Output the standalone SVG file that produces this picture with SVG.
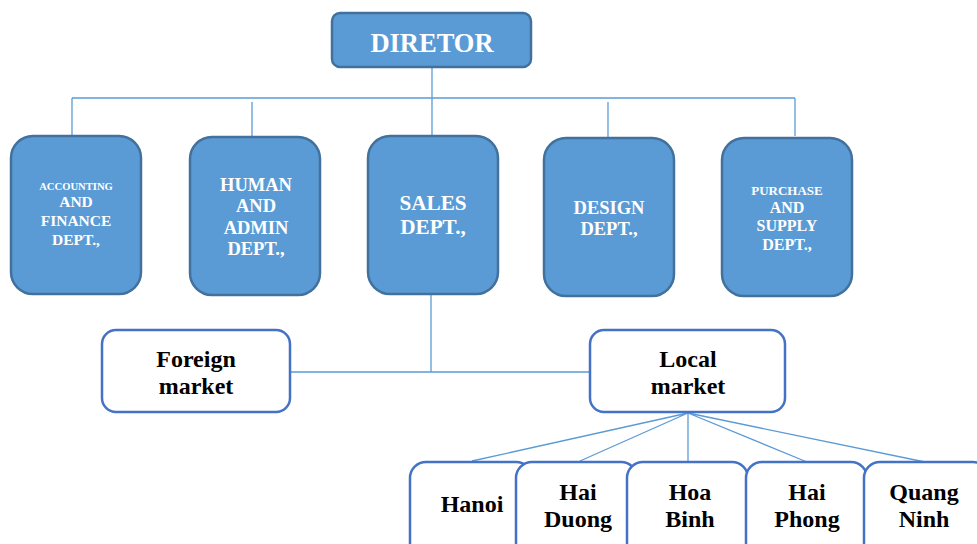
<svg xmlns="http://www.w3.org/2000/svg" width="977" height="544" viewBox="0 0 977 544">
<style>
.dept{fill:#5B9BD5;stroke:#41719C;stroke-width:2.5}
.wbox{fill:#FFFFFF;stroke:#4472C4;stroke-width:2.5}
.wt{font-family:"Liberation Serif","Times New Roman",serif;font-weight:bold;fill:#FFFFFF;text-anchor:middle}
.bt{font-family:"Liberation Serif","Times New Roman",serif;font-weight:bold;fill:#000000;text-anchor:middle}
.conn{stroke:#5B9BD5;stroke-width:1.3;fill:none}
</style>
<rect width="977" height="544" fill="#FFFFFF"/>
<g id="connectors">
<path class="conn" d="M432 67 V136 M72 98 H795 M72 98 V136 M252 102 V137 M608 102 V138 M795 98 V136"/>
<path class="conn" d="M431 294 V372 M290 372 H590"/>
<path class="conn" d="M688 413 L472 461 M688 413 L580 461 M688 413 L688 462 M688 413 L807 462 M688 413 L925 462"/>
</g>
<g id="director">
<rect class="dept" x="332" y="13" width="199" height="54" rx="8"/>
<text class="wt" x="432" y="52" font-size="26.5">DIRETOR</text>
</g>
<g id="accounting">
<rect class="dept" x="11" y="136" width="130" height="158" rx="22"/>
<text class="wt" x="76" y="190" font-size="10.6">ACCOUNTING</text>
<text class="wt" x="76" y="207" font-size="15.5">AND</text>
<text class="wt" x="76" y="226" font-size="15.5">FINANCE</text>
<text class="wt" x="76" y="245" font-size="15.5">DEPT.,</text>
</g>
<g id="hr">
<rect class="dept" x="190" y="137" width="130" height="158" rx="22"/>
<text class="wt" x="256" y="191" font-size="18.5">HUMAN</text>
<text class="wt" x="256" y="212" font-size="18.5">AND</text>
<text class="wt" x="256" y="234" font-size="18.5">ADMIN</text>
<text class="wt" x="256" y="255" font-size="18.5">DEPT.,</text>
</g>
<g id="sales">
<rect class="dept" x="368" y="136" width="130" height="158" rx="22"/>
<text class="wt" x="433" y="210" font-size="21.2">SALES</text>
<text class="wt" x="433" y="234" font-size="21.2">DEPT.,</text>
</g>
<g id="design">
<rect class="dept" x="544" y="138" width="130" height="158" rx="22"/>
<text class="wt" x="609" y="214" font-size="18.5">DESIGN</text>
<text class="wt" x="609" y="235" font-size="18.5">DEPT.,</text>
</g>
<g id="purchase">
<rect class="dept" x="722" y="138" width="130" height="158" rx="22"/>
<text class="wt" x="787" y="195" font-size="13">PURCHASE</text>
<text class="wt" x="787" y="213" font-size="16">AND</text>
<text class="wt" x="787" y="231" font-size="16">SUPPLY</text>
<text class="wt" x="787" y="250" font-size="16">DEPT.,</text>
</g>
<g id="foreign">
<rect class="wbox" x="102" y="330" width="188" height="82" rx="14"/>
<text class="bt" x="196" y="367" font-size="24">Foreign</text>
<text class="bt" x="196" y="394" font-size="24">market</text>
</g>
<g id="local">
<rect class="wbox" x="590" y="330" width="195" height="82" rx="14"/>
<text class="bt" x="688" y="367" font-size="24">Local</text>
<text class="bt" x="688" y="394" font-size="24">market</text>
</g>
<g id="hanoi">
<rect class="wbox" x="410" y="462" width="122" height="100" rx="16"/>
<text class="bt" x="472" y="512" font-size="24">Hanoi</text>
</g>
<g id="haiduong">
<rect class="wbox" x="516" y="462" width="121" height="100" rx="16"/>
<text class="bt" x="578" y="500" font-size="24">Hai</text>
<text class="bt" x="578" y="527" font-size="24">Duong</text>
</g>
<g id="hoabinh">
<rect class="wbox" x="627" y="462" width="121" height="100" rx="16"/>
<text class="bt" x="690" y="500" font-size="24">Hoa</text>
<text class="bt" x="690" y="527" font-size="24">Binh</text>
</g>
<g id="haiphong">
<rect class="wbox" x="746" y="462" width="121" height="100" rx="16"/>
<text class="bt" x="807" y="500" font-size="24">Hai</text>
<text class="bt" x="807" y="527" font-size="24">Phong</text>
</g>
<g id="quangninh">
<rect class="wbox" x="864" y="462" width="125" height="100" rx="16"/>
<text class="bt" x="924" y="500" font-size="24">Quang</text>
<text class="bt" x="924" y="527" font-size="24">Ninh</text>
</g>
</svg>
